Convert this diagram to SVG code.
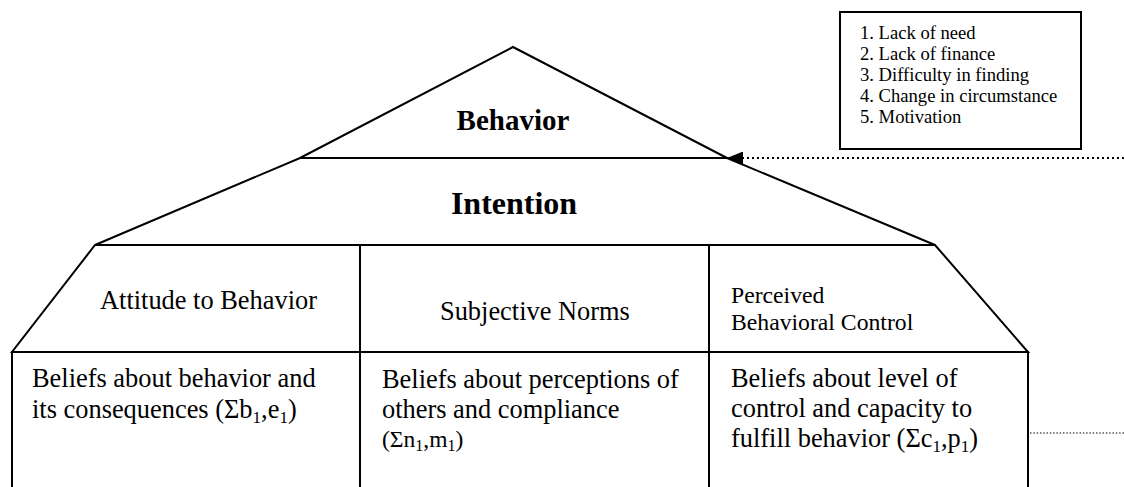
<svg xmlns="http://www.w3.org/2000/svg" width="1124" height="487" viewBox="0 0 1124 487">
<defs>
<style>
.ln{fill:none;stroke:#000;stroke-width:2;stroke-linejoin:miter}
.t{font-family:"Liberation Serif","Times New Roman",serif;fill:#000}
.b{font-weight:bold}
.dot1{fill:none;stroke:#000;stroke-width:2;stroke-dasharray:2 3}
.dot2{fill:none;stroke:#000;stroke-width:1.2;stroke-dasharray:1.5 1.8}
</style>
<marker id="ah" viewBox="0 0 16 13" refX="16" refY="6.5" markerWidth="16" markerHeight="13" markerUnits="userSpaceOnUse" orient="auto">
<path d="M0,0 L16,6.5 L0,13 z" fill="#000"/>
</marker>
</defs>
<rect width="1124" height="487" fill="#fff"/>

<g id="behavior">
<polygon class="ln" points="513,47 727,158 300,158"/>
<text class="t b" x="513" y="130" font-size="29" text-anchor="middle">Behavior</text>
</g>

<g id="intention">
<polygon class="ln" points="300,158 727,158 935,245 95,245"/>
<text class="t b" x="514" y="214" font-size="32" text-anchor="middle">Intention</text>
</g>

<g id="attitude">
<polygon class="ln" points="95,245 360,245 360,352 12,352"/>
<text class="t" x="100" y="309" font-size="26.4">Attitude to Behavior</text>
</g>

<g id="subjective-norms">
<rect class="ln" x="360" y="245" width="349" height="107"/>
<text class="t" x="440" y="320" font-size="26.4">Subjective Norms</text>
</g>

<g id="perceived-control">
<polygon class="ln" points="709,245 935,245 1028,352 709,352"/>
<text class="t" x="731" y="303" font-size="23.7">Perceived</text>
<text class="t" x="731" y="330" font-size="23.7">Behavioral Control</text>
</g>

<g id="beliefs-behavior">
<polyline class="ln" points="12,487 12,352 360,352 360,487"/>
<text class="t" font-size="26.4"><tspan x="32" y="387">Beliefs about behavior and</tspan><tspan x="32" y="418">its consequences (Σb<tspan font-size="17" dy="5">1</tspan><tspan dy="-5">,e</tspan><tspan font-size="17" dy="5">1</tspan><tspan dy="-5">)</tspan></tspan></text>
</g>

<g id="beliefs-norms">
<polyline class="ln" points="360,352 709,352 709,487"/>
<text class="t" font-size="26.4"><tspan x="382" y="388">Beliefs about perceptions of</tspan><tspan x="382" y="418">others and compliance</tspan></text>
<text class="t" font-size="23.5" x="382" y="447">(Σn<tspan font-size="16" dy="4">1</tspan><tspan dy="-4">,m</tspan><tspan font-size="16" dy="4">1</tspan><tspan dy="-4">)</tspan></text>
</g>

<g id="beliefs-control">
<polyline class="ln" points="709,352 1028,352 1028,487"/>
<text class="t" font-size="26.4"><tspan x="731" y="387">Beliefs about level of</tspan><tspan x="731" y="417">control and capacity to</tspan><tspan x="731" y="447">fulfill behavior (Σc<tspan font-size="17" dy="5">1</tspan><tspan dy="-5">,p</tspan><tspan font-size="17" dy="5">1</tspan><tspan dy="-5">)</tspan></tspan></text>
</g>

<g id="legend">
<rect class="ln" x="840" y="12" width="241" height="137"/>
<text class="t" font-size="18.6">
<tspan x="860" y="39">1. Lack of need</tspan>
<tspan x="860" y="60">2. Lack of finance</tspan>
<tspan x="860" y="81">3. Difficulty in finding</tspan>
<tspan x="860" y="102">4. Change in circumstance</tspan>
<tspan x="860" y="123">5. Motivation</tspan>
</text>
</g>

<g id="connectors">
<line class="dot1" x1="1124" y1="158" x2="727" y2="158" marker-end="url(#ah)"/>
<line class="dot2" x1="1030" y1="433" x2="1124" y2="433"/>
</g>
</svg>
